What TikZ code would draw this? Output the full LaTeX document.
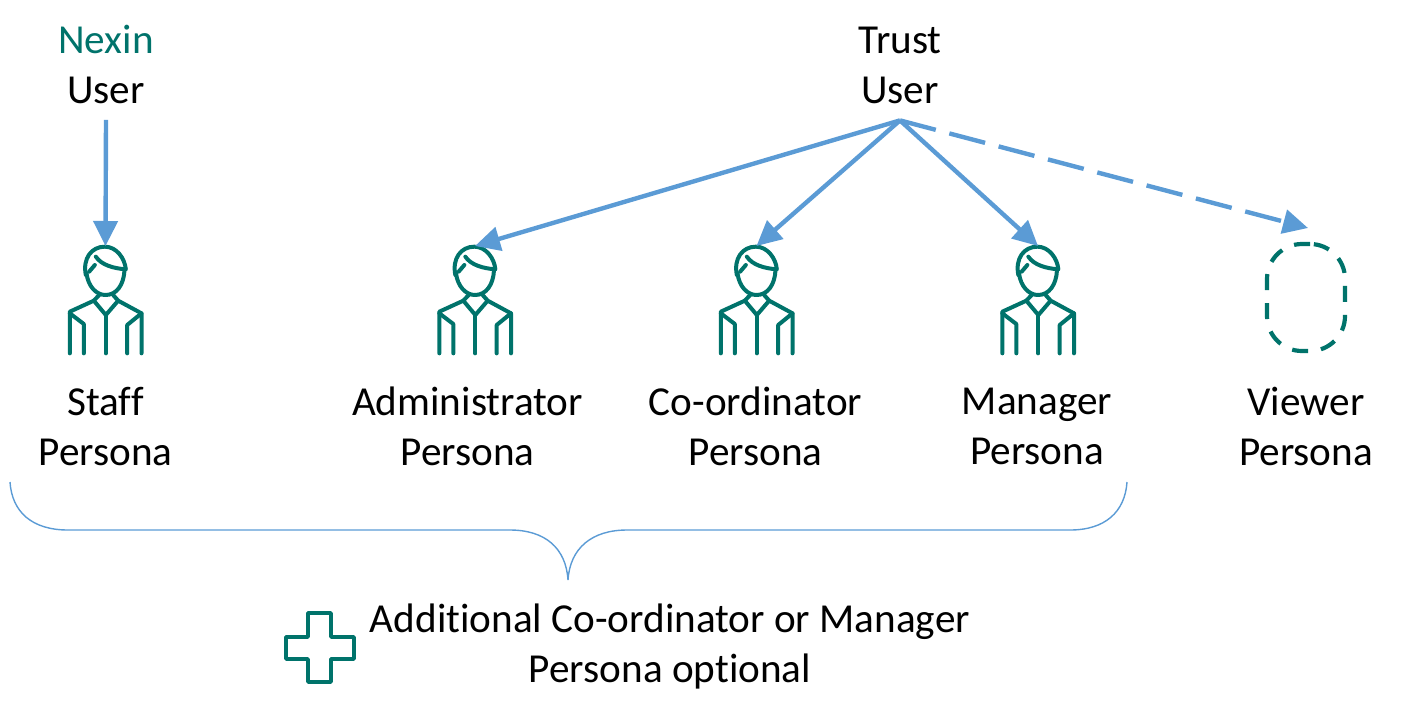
\documentclass[tikz,border=0pt]{standalone}
\usepackage{fontspec}
\setmainfont[Ligatures=NoCommon]{Carlito}
\usetikzlibrary{arrows.meta}
\definecolor{teal1}{HTML}{00736B}
\definecolor{blue1}{HTML}{5B9BD5}
\tikzset{
  px/.style={x=0.5pt,y=-0.5pt},
  label/.style={align=center,inner sep=0pt,font=\fontsize{20.6}{25}\selectfont,text=black},
  slot/.style={minimum width=37pt,minimum height=54pt,inner sep=0pt,outer sep=0pt},
  link/.style={blue1,line width=2.2pt,-{Triangle[length=12.5pt,width=12pt]}},
  figure/.pic={
    \begin{scope}[x=0.16667pt,y=-0.16667pt,shift={(-167,-210)},teal1,line width=2pt,line cap=round,line join=round]
      \draw (108,135) .. controls (98,85) and (125,50) .. (165,50) .. controls (200,50) and (225,85) .. (228,118) .. controls (190,115) and (155,105) .. (138,80);
      \draw (135,105) -- (118,125);
      \draw (110,130) .. controls (115,170) and (140,195) .. (167,195) .. controls (200,195) and (222,165) .. (224,120);
      \draw (148,195) -- (132,212) -- (168,255) -- (205,212) -- (190,195);
      \draw (132,212) -- (60,245) -- (60,370);
      \draw (205,212) -- (275,250) -- (275,370);
      \draw (60,250) -- (102,282) -- (102,370);
      \draw (275,250) -- (232,285) -- (232,370);
      \draw (168,255) -- (168,370);
    \end{scope}
  }
}
\begin{document}
\begin{tikzpicture}[px]
\useasboundingbox (0,0) rectangle (1418,713);
% upper labels
\node[label,minimum height=55pt] (nexin) at (106,64.5) {\textcolor{teal1}{Nexin}\\User};
\node[label,minimum height=55pt] (trust) at (900,65) {Trust\\User};
% figures
\node[slot] (staff) at (105.5,300) {};
\node[slot] (admin) at (475,300) {};
\node[slot] (coord) at (756.5,300) {};
\node[slot] (manager) at (1038,300) {};
\pic at (staff) {figure};
\pic at (admin) {figure};
\pic at (coord) {figure};
\pic at (manager) {figure};
\node[draw=teal1,line width=2.1pt,dash pattern=on 8pt off 6.5pt,rounded corners=17.5pt,minimum width=39pt,minimum height=53.5pt,inner sep=0pt] (viewer) at (1306,297.5) {};
\coordinate (viewertip) at (1308,228);
% connectors
\draw[link] (nexin.south) -- (staff.north);
\draw[link] (trust.south) -- (admin.north);
\draw[link] (trust.south) -- (coord.north);
\draw[link] (trust.south) -- (manager.north);
\draw[link,dash pattern=on 18.5pt off 7pt] (trust.south) -- (viewertip);
% persona labels
\node[label] (stafft) at (105.5,426.5) {Staff\\Persona};
\node[label] (admint) at (467.5,426.5) {Administrator\\Persona};
\node[label] (coordt) at (755.5,426.5) {Co-ordinator\\Persona};
\node[label] (managert) at (1037,426.5) {Manager\\Persona};
\node[label] (viewert) at (1306,426) {Viewer\\Persona};
% brace
\draw[blue1,line width=0.7pt] (10,482) .. controls (12,512) and (32,530) .. (68,530) -- (510,530) .. controls (545,530) and (566,548) .. (568,580) .. controls (570,548) and (592,530) .. (627,530) -- (1070,530) .. controls (1105,530) and (1125,512) .. (1127,482);
% plus
\draw[teal1,line width=1.8pt,line join=round] (308,613) -- (331,613) -- (331,637) -- (354,637) -- (354,659) -- (331,659) -- (331,682) -- (308,682) -- (308,659) -- (286,659) -- (286,637) -- (308,637) -- cycle;
\node[label] (note) at (670,646.5) {Additional Co-ordinator or Manager\\Persona optional};
\end{tikzpicture}
\end{document}
